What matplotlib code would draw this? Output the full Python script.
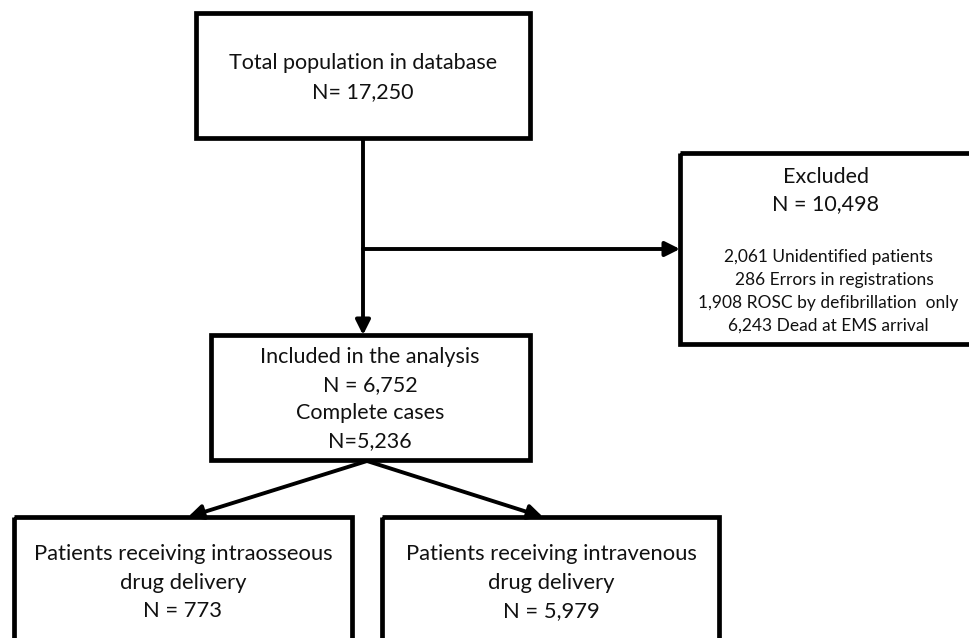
import matplotlib.pyplot as plt
from matplotlib.patches import Rectangle
from matplotlib import font_manager

# flowchart counts
total_n = 17250
excluded_n = 10498
excluded_reasons = ["Unidentified patients", "Errors in registrations",
                    "ROSC by defibrillation  only", "Dead at EMS arrival"]
excluded_counts = [2061, 286, 1908, 6243]
included_n = 6752
complete_n = 5236
route_labels = ["intraosseous", "intravenous"]
route_counts = [773, 5979]

names = {f.name for f in font_manager.fontManager.ttflist}
main_font = "Lato" if "Lato" in names else "DejaVu Sans"

fig = plt.figure(figsize=(9.69, 6.38), dpi=100)
ax = fig.add_axes([0, 0, 1, 1])
ax.set_xlim(0, 969)
ax.set_ylim(638, 0)
ax.axis("off")


def box(x0, y0, x1, y1):
    ax.add_patch(Rectangle((x0, y0), x1 - x0, y1 - y0, fill=False,
                           edgecolor="black", linewidth=3.4, clip_on=False))


def arrow(x0, y0, x1, y1):
    ax.annotate("", xy=(x1, y1), xytext=(x0, y0),
                arrowprops=dict(arrowstyle="-|>,head_length=0.8,head_width=0.4",
                                color="black", lw=2.8, shrinkA=0, shrinkB=0,
                                mutation_scale=11))


def lines(cx, ys, texts, size):
    for y, t in zip(ys, texts):
        ax.text(cx, y, t, ha="center", va="center", fontsize=size,
                family=main_font, color="#111111")


# boxes
box(196, 13, 530, 138)
box(680, 153, 980, 344)
box(211, 335, 530, 460)
box(14, 517, 352, 660)
box(382, 517, 719, 660)

# connectors
ax.plot([363, 363], [138, 249], color="black", lw=2.8, solid_capstyle="butt")
arrow(363, 249, 680, 249)
arrow(363, 249, 363, 335)
arrow(367, 461, 188, 517)
arrow(367, 461, 543, 517)

# text
lines(363, [63, 92], ["Total population in database", f"N= {total_n:,}"], 15.5)
lines(826, [177, 204], ["Excluded", f"N = {excluded_n:,}"], 15.5)
ex_x = [828, 834, 828, 828]
for x, y, c, r in zip(ex_x, [257, 280, 303, 326], excluded_counts, excluded_reasons):
    lines(x, [y], [f"{c:,} {r}"], 12.5)
lines(370, [357, 385, 413, 441],
      ["Included in the analysis", f"N = {included_n:,}", "Complete cases",
       f"N={complete_n:,}"], 15.5)
for cx, lab, n in zip([183, 551], route_labels, route_counts):
    lines(cx, [554, 583, 611],
          [f"Patients receiving {lab}", "drug delivery", f"N = {n:,}"], 15.8)

fig.savefig("out.png", dpi=100)
